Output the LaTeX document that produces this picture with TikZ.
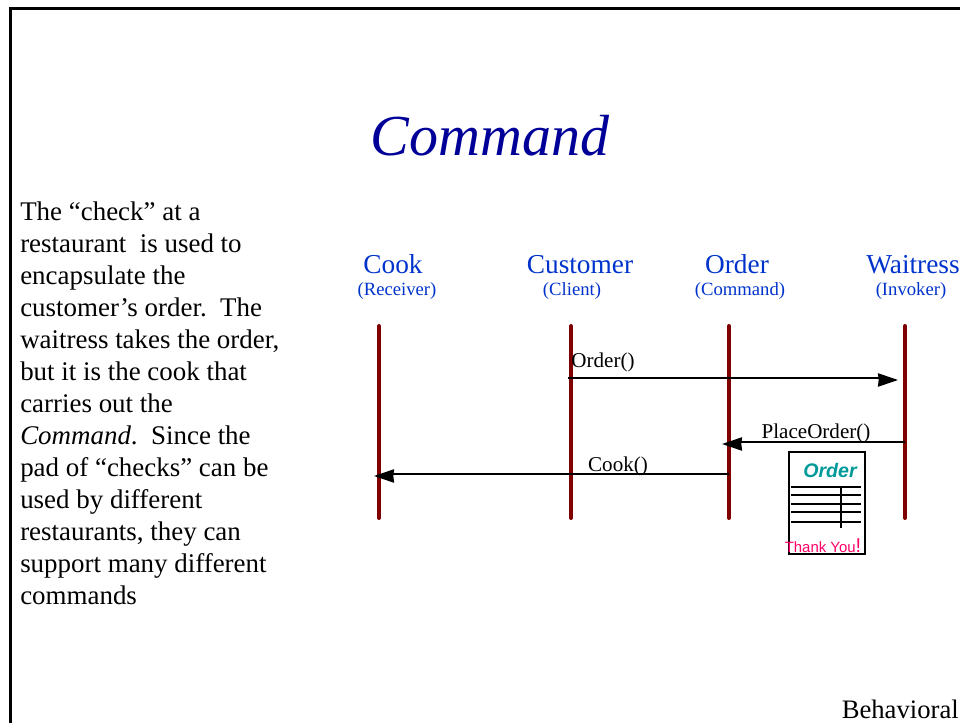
\documentclass[tikz,border=0pt]{standalone}
\usepackage{fontspec}
\setmainfont{Liberation Serif}
\newfontfamily\cardfont{Liberation Sans}
\usetikzlibrary{arrows.meta}
\definecolor{lifecolor}{HTML}{800000}
\definecolor{rolecolor}{HTML}{0033CC}
\definecolor{titlecolor}{HTML}{000099}
\definecolor{ordercolor}{HTML}{009999}
\definecolor{thankcolor}{HTML}{FF0066}

\begin{document}
\begin{tikzpicture}[x=0.75pt,y=-0.75pt,>={Stealth[length=15pt,width=10pt,inset=0.5pt]},
  role/.style={text=rolecolor,font=\fontsize{20.5pt}{21pt}\selectfont,inner sep=0pt,anchor=base},
  subrole/.style={text=rolecolor,font=\fontsize{14pt}{15pt}\selectfont,inner sep=0pt,anchor=base},
  message/.style={font=\fontsize{15.8pt}{16pt}\selectfont,inner sep=0pt,anchor=base},
  life/.style={lifecolor,line width=3pt,line cap=round},
  call/.style={->,line width=1.1pt},
  rowline/.style={line width=1.3pt}]
  \useasboundingbox (0,0) rectangle (960,723);

% define the frame and the text
  \coordinate (framebl) at (10.5,725);
  \coordinate (frametl) at (10.5,8.5);
  \coordinate (frametr) at (962,8.5);
  \draw[line width=2.2pt] (framebl) -- (frametl) -- (frametr);
  \node[text=titlecolor,inner sep=0pt] (title) at (490,136)
    {\fontsize{43.5pt}{45pt}\selectfont\itshape Command};
  \node[anchor=north west,align=left,inner sep=0pt,font=\fontsize{20.2pt}{24pt}\selectfont] (story) at (20,202)
    {The “check” at a\\ restaurant\ \ is used to\\ encapsulate the\\ customer’s order.\ \ The\\
     waitress takes the order,\\ but it is the cook that\\ carries out the\\
     \textit{Command}.\ \ Since the\\ pad of “checks” can be\\ used by different\\
     restaurants, they can\\ support many different\\ commands};
  \node[anchor=base east,inner sep=0pt,font=\fontsize{20pt}{20pt}\selectfont] (group) at (959,718) {Behavioral};

% define the participants
  \node[role] (cook) at (393,274) {Cook};
  \node[subrole] (receiver) at (397,296) {(Receiver)};
  \node[role] (customer) at (580,274) {Customer};
  \node[subrole] (client) at (572,296) {(Client)};
  \node[role] (order) at (737,274) {Order};
  \node[subrole] (command) at (740,296) {(Command)};
  \node[role] (waitress) at (913,274) {Waitress};
  \node[subrole] (invoker) at (911,296) {(Invoker)};

% define the lifelines
  \foreach \name/\xpos in {cook/379,customer/571,order/729,waitress/905}{
    \coordinate (\name top) at (\xpos,326);
    \coordinate (\name bot) at (\xpos,518);
    \draw[life] (\name top) -- (\name bot);
  }

% define the links
  \coordinate (ordera) at (568,378);
  \coordinate (orderb) at (898,380);
  \coordinate (placea) at (905,442);
  \coordinate (placeb) at (722,444);
  \coordinate (cooka) at (729,474);
  \coordinate (cookb) at (374,476);
  \draw[call] (ordera) -| ([xshift=-12pt]orderb) -- (orderb);
  \draw[call] (placea) -| ([xshift=12pt]placeb) -- (placeb);
  \draw[call] (cooka) -| ([xshift=12pt]cookb) -- (cookb);
  \node[message] (ordercall) at (603,368) {Order()};
  \node[message] (placecall) at (816,438) {PlaceOrder()};
  \node[message] (cookcall) at (618,471) {Cook()};

% define the check
  \node[draw,line width=1.3pt,minimum width=57.5pt,minimum height=77pt,inner sep=0pt] (card) at (827,503) {};
  \node[text=ordercolor,inner sep=0pt,font=\cardfont\bfseries\itshape\fontsize{14.7pt}{15pt}\selectfont] (cardtitle) at (830,470) {Order};
  \foreach \ypos in {487,495,504,512,522}{
    \coordinate (rowa) at (791,\ypos);
    \coordinate (rowb) at (861,\ypos);
    \draw[rowline] (rowa) -- (rowb);
  }
  \coordinate (cola) at (841,487);
  \coordinate (colb) at (841,528);
  \draw[rowline] (cola) -- (colb);
  \node[text=thankcolor,inner sep=0pt,anchor=base,font=\cardfont\fontsize{11.2pt}{12pt}\selectfont] (thanks) at (823,552)
    {Thank You\fontsize{15pt}{15pt}\selectfont!};
\end{tikzpicture}
\end{document}
